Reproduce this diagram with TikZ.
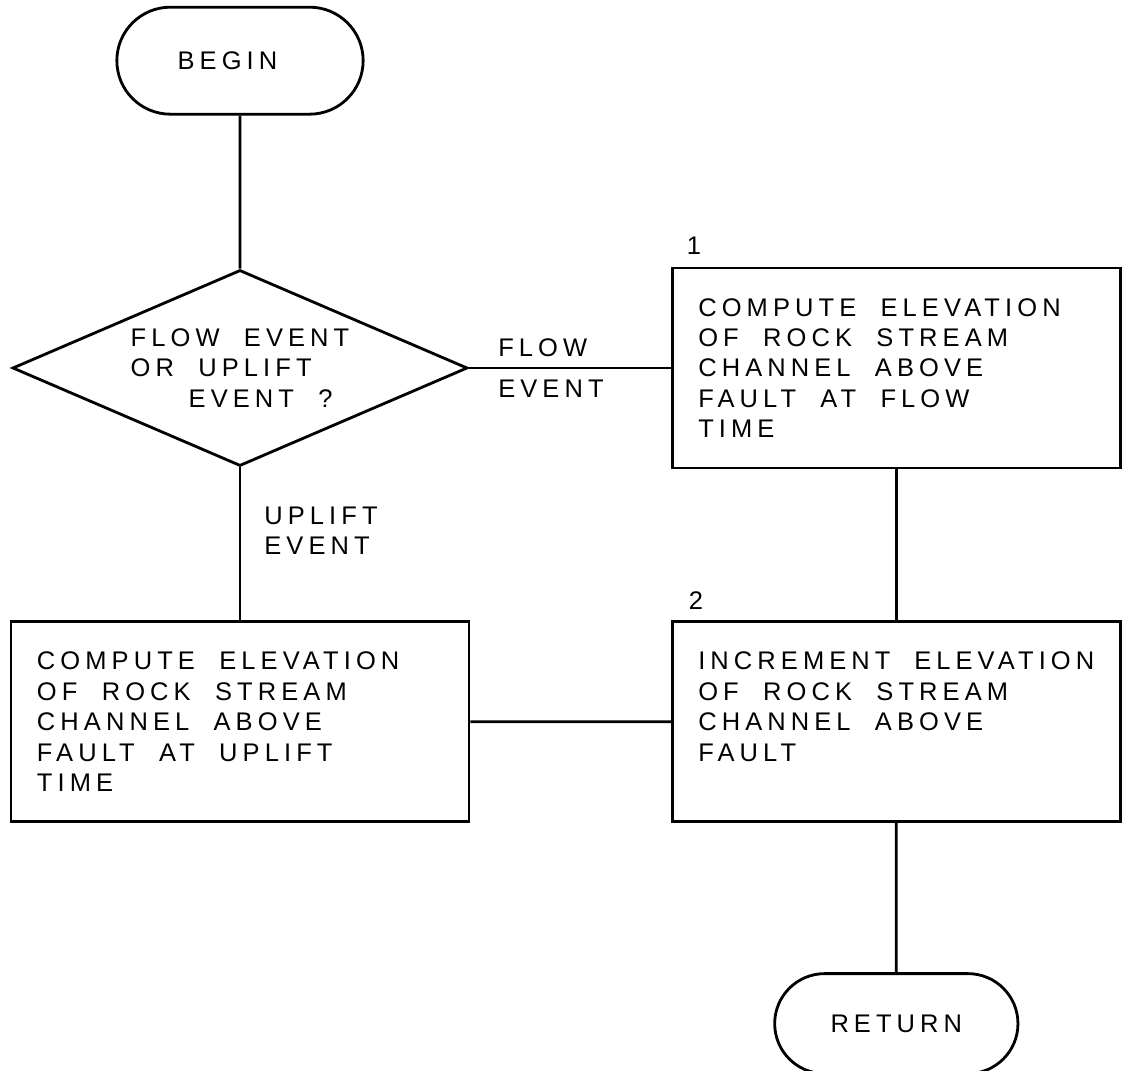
\documentclass[tikz,border=0pt]{standalone}
\usepackage{fontspec}
\setmainfont{Liberation Sans}[LetterSpace=20,WordSpace=2]
\usetikzlibrary{positioning,shapes.geometric,shapes.misc}

\begin{document}
\begin{tikzpicture}[font=\fontsize{14.5}{17.3}\selectfont, line width=1.6pt, node distance=3cm]
\tikzstyle{term}=[draw, rounded rectangle, minimum width=5.16cm, minimum height=2.14cm]
\tikzstyle{proc}=[draw, align=flush left, text width=7.92cm, inner xsep=0.52cm, minimum width=8.96cm, minimum height=4cm]
\tikzstyle{lbl}=[inner sep=0pt, align=left]
\useasboundingbox (-4.8,-14.04) rectangle (17.64,7.36);
\node[draw, diamond, aspect=2.32, inner sep=0pt, minimum width=9.1cm, minimum height=3.92cm, align=left] (dec) {FLOW EVENT\\OR UPLIFT\\\hspace*{1.16cm}EVENT ?};
\node[term, above=3.06cm of dec] (begin) {BEGIN\hspace*{0.5cm}};
\node[proc, right=4.04cm of dec] (p1) {COMPUTE ELEVATION\\OF ROCK STREAM\\CHANNEL ABOVE\\FAULT AT FLOW\\TIME};
\node[proc, below=3.02cm of p1] (p2) {INCREMENT~ELEVATION\\OF ROCK STREAM\\CHANNEL ABOVE\\FAULT\\\mbox{}};
\node[proc, below=3.06cm of dec, text width=8.12cm, minimum width=9.16cm] (p3) {COMPUTE ELEVATION\\OF ROCK STREAM\\CHANNEL ABOVE\\FAULT AT UPLIFT\\TIME};
\node[term, below=2.98cm of p2, minimum width=5.1cm, minimum height=2cm] (ret) {RETURN};
\node[lbl, above=0.22cm of p1.north west, xshift=0.46cm] (n1) {1};
\node[lbl, above=0.2cm of p2.north west, xshift=0.5cm] (n2) {2};
\node[lbl, right=0.56cm of dec.east] (flow) {FLOW\\[0.2cm]EVENT};
\node[lbl, below right=0.76cm and 0.46cm of dec.south] (uplift) {UPLIFT\\EVENT};
\foreach \x/\y in {begin/dec,dec/p1,p1/p2,dec/p3,p3/p2,p2/ret}{\draw (\x) -- (\y);}
\end{tikzpicture}
\end{document}
